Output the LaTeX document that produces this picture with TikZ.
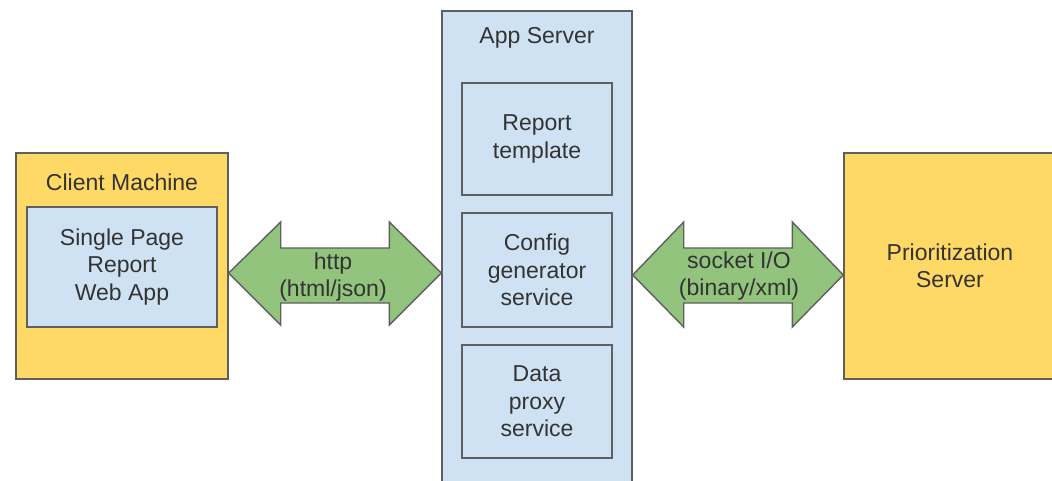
\documentclass[tikz,border=0pt]{standalone}
\usepackage{fontspec}
\setmainfont{Liberation Sans}
\usetikzlibrary{calc}
\definecolor{boxyellow}{HTML}{FFD966}
\definecolor{boxblue}{HTML}{CFE2F3}
\definecolor{arrowgreen}{HTML}{93C47D}
\definecolor{edgegray}{HTML}{5F5F5F}
\definecolor{inkgray}{HTML}{333333}
\tikzset{
  box/.style={draw=edgegray, line width=1.4pt, rectangle, inner sep=0pt, align=center,
              text=inkgray, font=\fontsize{23}{27.5}\selectfont},
  ybox/.style={box, fill=boxyellow},
  bbox/.style={box, fill=boxblue},
  title/.style={text=inkgray, font=\fontsize{23}{27.5}\selectfont, inner sep=0pt},
  arrowshape/.style={draw=edgegray, line width=1.4pt, fill=arrowgreen, line join=miter},
  arrowlabel/.style={text=inkgray, align=center, font=\fontsize{23}{27.5}\selectfont, inner sep=0pt},
}
\begin{document}
\begin{tikzpicture}[x=1pt, y=-1pt]
  \clip (0,0) rectangle (1052,480);
  \fill[white] (0,0) rectangle (1052,480);

  % client side
  \node[ybox, minimum width=212pt, minimum height=226pt] (client) at (122,266) {};
  \node[title] (clienttitle) at (122,182) {Client Machine};
  \node[bbox, minimum width=190pt, minimum height=120pt] (spa) at (122,267)
    {Single Page\\Report\\Web App};

  % application server
  \node[bbox, minimum width=190pt, minimum height=490pt] (app) at (537,256) {};
  \node[title] (apptitle) at (537,38) {App Server};
  \node[bbox, minimum width=150pt, minimum height=112pt] (tmpl) at (537,139)
    {Report\\template};
  \node[bbox, minimum width=150pt, minimum height=114pt] (cfg) at (537,270)
    {Config\\generator\\service};
  \node[bbox, minimum width=150pt, minimum height=113pt] (proxy) at (537,401.5)
    {Data\\proxy\\service};

  % prioritization server
  \node[ybox, minimum width=212pt, minimum height=226pt] (prio) at (950,266)
    {Prioritization\\Server};

  % double-headed block arrows
  \draw[arrowshape] let \p1=(client.east), \p2=(app.west) in
    (\x1,273) -- (\x1+52,222) -- (\x1+52,248) -- (\x2-52,248) -- (\x2-52,222)
    -- (\x2,273) -- (\x2-52,325) -- (\x2-52,303) -- (\x1+52,303) -- (\x1+52,325) -- cycle;
  \node[arrowlabel] (httplabel) at (333,277) {http\\(html/json)};

  \draw[arrowshape] let \p1=(app.east), \p2=(prio.west) in
    (\x1,275) -- (\x1+51,222) -- (\x1+51,248) -- (\x2-51,248) -- (\x2-51,222)
    -- (\x2,275) -- (\x2-51,327) -- (\x2-51,303) -- (\x1+51,303) -- (\x1+51,327) -- cycle;
  \node[arrowlabel] (socketlabel) at (739,276) {socket I/O\\(binary/xml)};
\end{tikzpicture}
\end{document}
